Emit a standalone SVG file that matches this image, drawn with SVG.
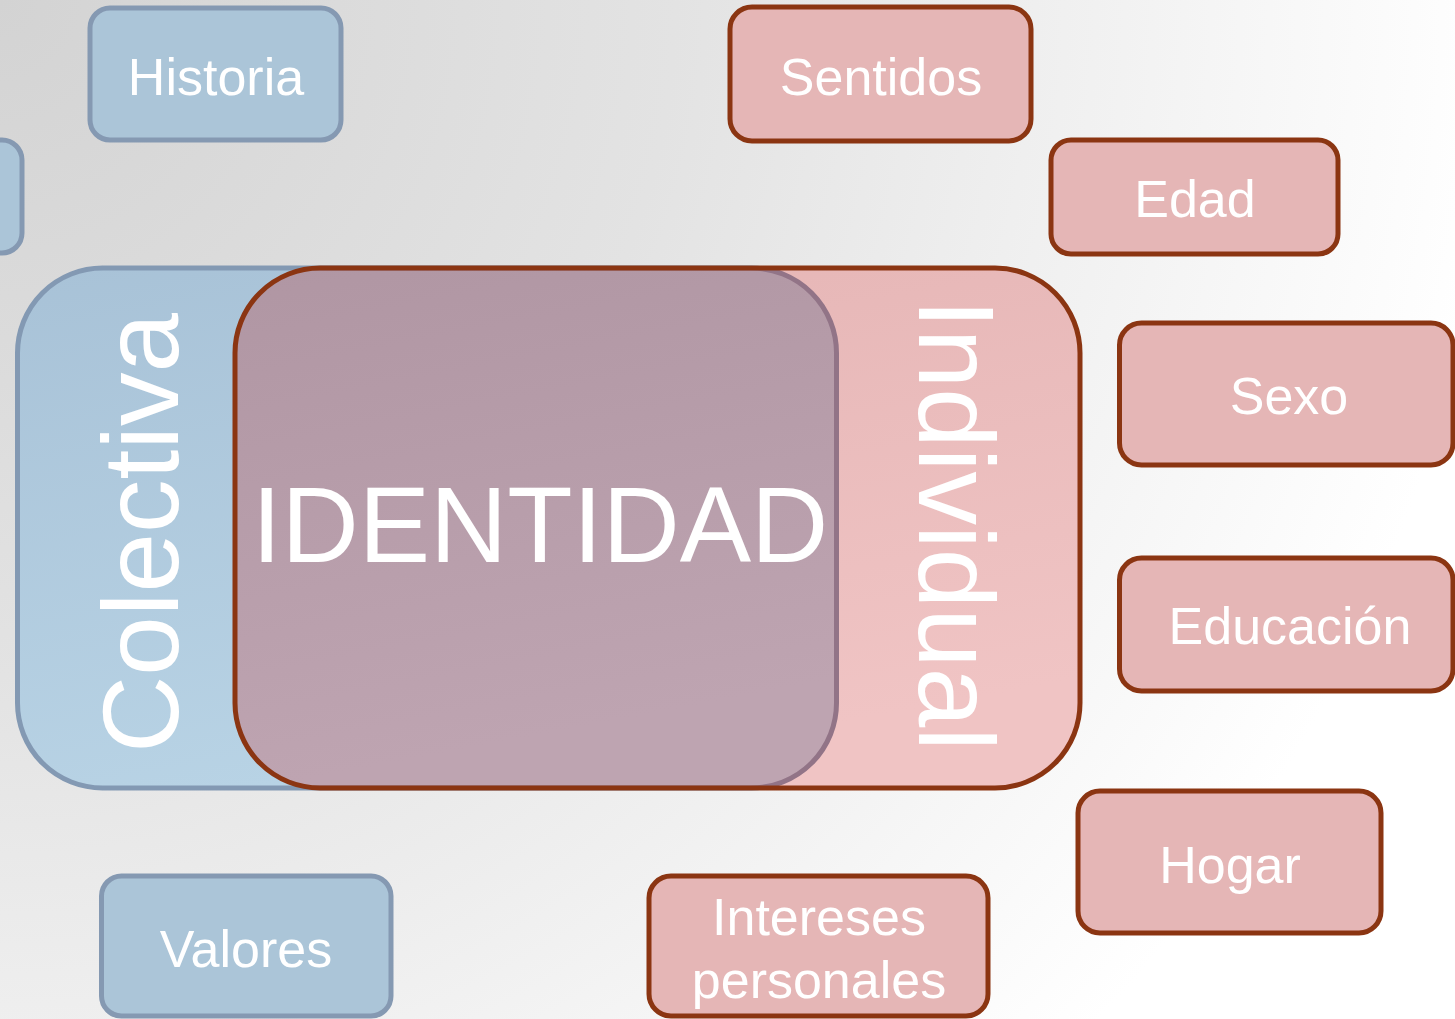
<svg xmlns="http://www.w3.org/2000/svg" width="1455" height="1019" viewBox="0 0 1455 1019">
<defs>
<radialGradient id="bg" cx="0" cy="0" r="1500" gradientUnits="userSpaceOnUse">
<stop offset="0" stop-color="#d3d3d3"/>
<stop offset="0.45" stop-color="#e3e3e3"/>
<stop offset="0.75" stop-color="#f2f2f2"/>
<stop offset="1" stop-color="#ffffff"/>
</radialGradient>
<linearGradient id="gBlue" x1="0" y1="0" x2="0.3" y2="1">
<stop offset="0" stop-color="#a8c2d7"/>
<stop offset="1" stop-color="#b8d3e5"/>
</linearGradient>
<linearGradient id="gPink" x1="0" y1="0" x2="0.3" y2="1">
<stop offset="0" stop-color="#e5b5b5"/>
<stop offset="1" stop-color="#f0c4c4"/>
</linearGradient>
<linearGradient id="gOver" x1="0" y1="0" x2="0.3" y2="1">
<stop offset="0" stop-color="#af95a2"/>
<stop offset="1" stop-color="#bea4b1"/>
</linearGradient>
<clipPath id="pinkClip">
<rect x="235" y="268" width="845" height="520" rx="85" ry="85"/>
</clipPath>
</defs>
<style>
.sb{fill:#abc5d8;stroke:#8599b2;stroke-width:5}
.sp{fill:#e5b6b6;stroke:#8b3512;stroke-width:5}
.t{fill:#ffffff;font-family:"Liberation Sans",Arial,sans-serif;font-size:52px;text-anchor:middle}
.big{fill:#ffffff;font-family:"Liberation Sans",Arial,sans-serif;font-size:107px;text-anchor:middle}
</style>
<rect x="0" y="0" width="1455" height="1019" fill="url(#bg)"/>

<g id="main">
<rect x="17.5" y="268" width="819" height="520" rx="85" ry="85" fill="url(#gBlue)" stroke="#8399b3" stroke-width="5"/>
<rect x="235" y="268" width="845" height="520" rx="85" ry="85" fill="url(#gPink)"/>
<g clip-path="url(#pinkClip)">
<rect x="17.5" y="268" width="819" height="520" rx="85" ry="85" fill="url(#gOver)" stroke="#927487" stroke-width="5"/>
</g>
<rect x="235" y="268" width="845" height="520" rx="85" ry="85" fill="none" stroke="#8b3512" stroke-width="5"/>
<text class="big" transform="translate(178,533) rotate(-90)">Colectiva</text>
<text class="big" transform="translate(919,525) rotate(90)">Individual</text>
<text class="big" x="540" y="562">IDENTIDAD</text>
</g>

<g id="connectors"></g>

<g id="historia">
<rect class="sb" x="90" y="8" width="251" height="132" rx="20"/>
<text class="t" x="216" y="95">Historia</text>
</g>
<g id="left-box">
<rect class="sb" x="-200" y="140" width="222" height="113" rx="20"/>
</g>
<g id="valores">
<rect class="sb" x="101.5" y="876" width="289.5" height="140" rx="20"/>
<text class="t" x="246" y="967">Valores</text>
</g>
<g id="sentidos">
<rect class="sp" x="730" y="7" width="301" height="134" rx="22"/>
<text class="t" x="881" y="95">Sentidos</text>
</g>
<g id="edad">
<rect class="sp" x="1051" y="140" width="287" height="114" rx="20"/>
<text class="t" x="1195" y="217">Edad</text>
</g>
<g id="sexo">
<rect class="sp" x="1119.5" y="323" width="333.5" height="142" rx="22"/>
<text class="t" x="1289" y="414">Sexo</text>
</g>
<g id="educacion">
<rect class="sp" x="1119.5" y="558" width="333.5" height="133" rx="22"/>
<text class="t" x="1290" y="644">Educación</text>
</g>
<g id="hogar">
<rect class="sp" x="1078" y="791" width="303" height="142" rx="22"/>
<text class="t" x="1230" y="883">Hogar</text>
</g>
<g id="intereses">
<rect class="sp" x="649" y="876" width="339" height="140" rx="22"/>
<text class="t" x="819" y="935">Intereses</text>
<text class="t" x="819" y="998">personales</text>
</g>
</svg>
